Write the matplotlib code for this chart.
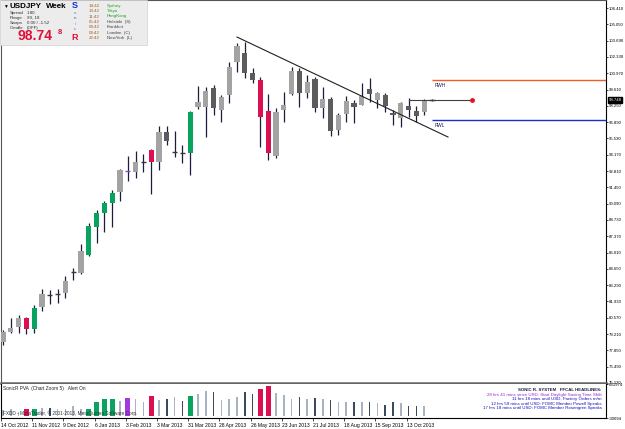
import matplotlib
matplotlib.use('Agg')
import matplotlib.pyplot as plt
from matplotlib.patches import Rectangle
import numpy as np

plt.rcParams['font.family'] = ['Liberation Sans', 'DejaVu Sans']

# USDJPY weekly bars, 14 Oct 2012 .. 3 Nov 2013
opens = [78.56, 79.39, 79.81, 80.56, 79.64, 81.47, 82.49, 82.53, 82.64, 84.38,
         84.31, 85.81, 88.15, 89.32, 90.15, 91.06, 92.84, 92.73, 93.55, 94.57,
         93.57, 96.07, 94.38, 94.38, 94.32, 98.15, 98.15, 99.74, 97.90, 99.15,
         101.91, 102.66, 100.99, 100.41, 97.82, 94.07, 97.90, 99.24, 101.16, 99.32,
         100.49, 98.07, 98.82, 96.24, 97.57, 98.49, 98.32, 99.65, 98.74, 99.15,
         97.65, 97.24, 98.24, 97.82, 97.74, 98.70]
highs = [79.56, 80.56, 80.80, 80.64, 81.64, 82.98, 82.89, 82.98, 84.06, 84.73,
         86.73, 88.48, 89.57, 90.31, 91.23, 92.98, 94.07, 94.48, 94.23, 94.65,
         96.57, 96.57, 96.15, 94.98, 97.82, 99.90, 99.82, 99.99, 99.15, 101.91,
         103.49, 103.57, 101.41, 100.66, 99.24, 98.07, 99.40, 101.49, 101.41, 100.82,
         100.66, 99.82, 98.99, 97.65, 99.07, 98.74, 100.16, 100.57, 99.40, 99.32,
         97.90, 98.57, 98.90, 98.24, 98.82, 98.78]
lows = [78.31, 79.31, 79.31, 79.22, 79.31, 81.14, 81.72, 81.81, 82.22, 83.73,
        84.23, 85.73, 86.81, 87.73, 88.15, 90.31, 91.98, 92.23, 92.73, 90.90,
        92.90, 94.98, 93.98, 93.48, 92.48, 97.99, 95.65, 97.49, 96.90, 98.49,
        101.07, 100.57, 100.16, 94.82, 93.73, 93.90, 96.90, 99.15, 98.15, 98.90,
        97.74, 97.24, 95.73, 95.82, 96.90, 96.82, 98.32, 98.57, 98.07, 97.74,
        96.65, 96.49, 97.32, 96.90, 97.49, 98.66]
closes = [79.39, 79.72, 80.56, 79.64, 81.39, 82.56, 82.47, 82.56, 83.64, 84.40,
          86.14, 88.23, 89.32, 90.15, 90.98, 92.90, 92.80, 93.57, 93.58, 93.57,
          96.07, 95.32, 94.42, 94.32, 97.74, 98.57, 99.49, 98.07, 98.99, 101.49,
          103.24, 100.99, 100.41, 97.32, 94.32, 97.74, 98.32, 101.16, 99.32, 100.24,
          98.07, 98.82, 96.15, 97.49, 98.65, 98.15, 99.07, 99.24, 99.32, 98.24,
          97.49, 98.49, 97.90, 97.40, 98.74, 98.74]
volumes = [125600, 145000, 86700, 145000, 145000, 164500, 164500, 145000, 145000, 203500,
           145000, 145000, 281000, 340000, 340000, 301000, 359000, 340000, 281000, 398000,
           320000, 340000, 379000, 301000, 398000, 437000, 496000, 476000, 320000, 340000,
           379000, 476000, 437000, 535000, 593000, 457000, 418000, 340000, 379000, 340000,
           359000, 340000, 320000, 281000, 281000, 281000, 281000, 281000, 262000, 223000,
           281000, 262000, 203500, 203500, 203500, 8000]
# SonicR PVA class: n normal, cu climax up, cd climax down, rv rising volume
pva = ['n', 'n', 'n', 'cd', 'cu', 'n', 'n', 'n', 'n', 'n',
       'n', 'cu', 'cu', 'cu', 'cu', 'n', 'rv', 'n', 'n', 'cd',
       'n', 'n', 'n', 'n', 'cu', 'n', 'n', 'n', 'n', 'n',
       'n', 'n', 'n', 'cd', 'cd', 'n', 'n', 'n', 'n', 'n',
       'n', 'n', 'n', 'n', 'n', 'n', 'n', 'n', 'n', 'n',
       'n', 'n', 'n', 'n', 'n', 'n']

date_ticks = [0, 4, 8, 12, 16, 20, 24, 28, 32, 36, 40, 44, 48, 52]
date_labels = ['14 Oct 2012', '11 Nov 2012', '9 Dec 2012', '6 Jan 2013', '3 Feb 2013',
               '3 Mar 2013', '31 Mar 2013', '28 Apr 2013', '26 May 2013', '23 Jun 2013',
               '21 Jul 2013', '18 Aug 2013', '15 Sep 2013', '13 Oct 2013']
price_ticks = [75.13 + 1.36 * k for k in range(24)]

trend_x = [30.0, 57.05]
trend_y = [103.99, 95.65]
rwh = 100.41
rwl = 97.11
last_price = 98.74
price_line_x = [52, 60.1]

W, H = 625, 429
fig = plt.figure(figsize=(W / 100, H / 100), dpi=100)
fig.patch.set_facecolor('white')


def fx(x):
    return x / W


def fy(y):
    return 1 - y / H


ax = fig.add_axes([fx(1), fy(383), fx(605), 383 / H])
axv = fig.add_axes([fx(1), fy(418), fx(605), 34 / H])

x = np.arange(len(opens))
xlim = (-2 / 7.8, 603 / 7.8)

col_up = '#a3a3a3'
col_dn = '#5c5c5c'
col_wick = '#1c1c3e'
pva_cols = {'cu': '#08a35f', 'cd': '#dc1050', 'rv': '#a23ae0'}

for i in x:
    o, h, l, c = opens[i], highs[i], lows[i], closes[i]
    ax.vlines(i, l, h, color=col_wick, lw=0.9, zorder=2)
    if pva[i] in pva_cols:
        fc = pva_cols[pva[i]]
    else:
        fc = col_up if c > o else col_dn
    if abs(c - o) < 0.1:
        lc = fc if pva[i] in pva_cols else '#3a3a3a'
        ax.hlines((o + c) / 2, i - 0.33, i + 0.33, color=lc, lw=1.0, zorder=3)
    else:
        ax.bar(i, abs(c - o), bottom=min(o, c), width=0.66, color=fc,
               linewidth=0, zorder=3)

# trend line, RWH / RWL levels, current price line
ax.plot(trend_x, trend_y, color='#202020', lw=0.8, zorder=4)
ax.hlines(rwh, 55, xlim[1], color='#f25a2a', lw=1.0)
ax.hlines(rwl, 55, xlim[1], color='#1c2ec8', lw=1.0)
ax.text(55.3, rwh - 0.25, 'RWH', fontsize=3.4, color='#1c1c5e', va='top')
ax.text(55.3, rwl - 0.25, 'RWL', fontsize=3.4, color='#1c1c5e', va='top')
ax.plot(price_line_x, [last_price, last_price], color='#404040', lw=0.8, zorder=4)
ax.plot(price_line_x[1], last_price, 'o', color='#e81020', ms=2.5, zorder=5)

ax.set_xlim(xlim)
ax.set_ylim(75.135, 107.08)
ax.yaxis.tick_right()
ax.set_yticks(price_ticks)
ax.set_yticklabels([f'{v:.3f}' for v in price_ticks], fontsize=3.1)
ax.tick_params(axis='y', length=1.5, width=0.5, pad=0.5, colors='black')
ax.set_xticks([])
for s in ['left', 'top']:
    ax.spines[s].set_color('#555555')
    ax.spines[s].set_linewidth(0.8)
ax.spines['right'].set_linewidth(0.8)
ax.spines['bottom'].set_color('#666666')
ax.spines['bottom'].set_linewidth(1.8)

# current price box on the axis
ax.text(1.004, (last_price - 75.135) / (107.08 - 75.135), '98.748',
        transform=ax.transAxes, fontsize=3.1, color='white', va='center', ha='left',
        bbox=dict(boxstyle='square,pad=0.2', fc='black', ec='black'), zorder=6)

# volume panel
vol_light = '#a8b3c2'
vol_dark = '#3c4a60'
for i in x:
    if pva[i] in pva_cols:
        axv.bar(i, volumes[i], width=0.62, color=pva_cols[pva[i]], linewidth=0)
    else:
        vc = vol_light if closes[i] >= opens[i] else vol_dark
        axv.bar(i, volumes[i], width=0.2, color=vc, linewidth=0)

axv.set_xlim(xlim)
axv.set_ylim(-30094, 631974)
axv.yaxis.tick_right()
axv.set_yticks([631974, -30094])
axv.set_yticklabels(['631974', '-30094'], fontsize=3.1)
axv.tick_params(axis='y', length=1.5, width=0.5, pad=0.5)
axv.set_xticks([t - 0.25 for t in date_ticks])
axv.set_xticklabels(date_labels, fontsize=3.6, ha='left')
axv.tick_params(axis='x', length=2, width=0.5, pad=1.5)
for s in axv.spines.values():
    s.set_linewidth(0.8)
axv.spines['top'].set_visible(False)

axv.text(0.004, 0.93, 'SonicR PVA  (Chart Zoom 5)   Alert On', transform=axv.transAxes,
         fontsize=3.4, va='top', color='#202020')
axv.text(0.004, 0.05, 'FXDD - MetaTrader, \u00a9 2001-2013, MetaQuotes Software Corp.',
         transform=axv.transAxes, fontsize=3.4, va='bottom', color='#303030')

news = [('SONIC R. SYSTEM   FFCAL HEADLINES:', '#1a1a40', 'bold'),
        ('28 hrs 41 mins since USD: Start Daylight Saving Time Shift', '#a020d0', 'normal'),
        ('11 hrs 18 mins until USD: Factory Orders m/m', '#1010c0', 'normal'),
        ('12 hrs 59 mins until USD: FOMC Member Powell Speaks', '#1010c0', 'normal'),
        ('17 hrs 18 mins until USD: FOMC Member Rosengren Speaks', '#1010c0', 'normal')]
for k, (t, c, w) in enumerate(news):
    fig.text(fx(602), fy(390 + 4.6 * k), t, fontsize=3.2, color=c, fontweight=w,
             ha='right', va='center')

# info panel top-left
fig.add_artist(Rectangle((0, fy(45)), fx(147), 45 / H, transform=fig.transFigure,
                         fc='#ececec', ec='#d0d0d0', lw=0.5, zorder=5))
fig.text(fx(3), fy(6), '\u25bc', fontsize=3.5, va='center', zorder=6)
fig.text(fx(9), fy(6), 'USDJPY', fontsize=5.8, fontweight='bold', va='center', zorder=6)
fig.text(fx(46), fy(6), 'Week', fontsize=5.8, fontweight='bold', va='center', zorder=6)
left_rows = [('Spread', '1.80'), ('Range', '99, 18'), ('Swaps', '0.00 / -1.52'),
             ('Candle', '(OFF)')]
for k, (a, b) in enumerate(left_rows):
    fig.text(fx(10), fy(13 + 5 * k), a, fontsize=3.2, color='#303030', va='center', zorder=6)
    fig.text(fx(27), fy(13 + 5 * k), b, fontsize=3.2, color='#303030', va='center', zorder=6)
fig.text(fx(18), fy(36), '98.74', fontsize=10, fontweight='bold', color='#e0103a',
         va='center', zorder=6)
fig.text(fx(58), fy(33), '8', fontsize=5.5, fontweight='bold', color='#e0103a',
         va='center', zorder=6)
sonic = [('S', '#1030e0', 6.5, 'bold', 6), ('o', '#6080e0', 3.2, 'normal', 13),
         ('n', '#3050d0', 3.2, 'normal', 18), ('i', '#d040b0', 3.2, 'normal', 24),
         ('c', '#d040b0', 3.2, 'normal', 29), ('R', '#e01030', 6.5, 'bold', 37)]
for t, c, s, w, yy in sonic:
    fig.text(fx(75), fy(yy), t, fontsize=s, fontweight=w, color=c, va='center',
             ha='center', zorder=6)
sessions = [('14:42', 'Sydney', '#20a020'), ('13:42', 'Tokyo', '#20a020'),
            ('11:42', 'HongKong', '#20a020'), ('05:42', 'Helsinki  (S)', '#404040'),
            ('04:42', 'Frankfurt', '#404040'), ('03:42', 'London  (C)', '#404040'),
            ('22:42', 'NewYork  (L)', '#404040')]
for k, (tm, nm, c) in enumerate(sessions):
    yy = 5.7 + 5.4 * k
    fig.text(fx(89), fy(yy), tm, fontsize=3.2, color='#a06020', va='center', zorder=6)
    fig.text(fx(107), fy(yy), nm, fontsize=3.2, color=c, va='center', zorder=6)

fig.savefig('out.png', dpi=100, facecolor='white')
